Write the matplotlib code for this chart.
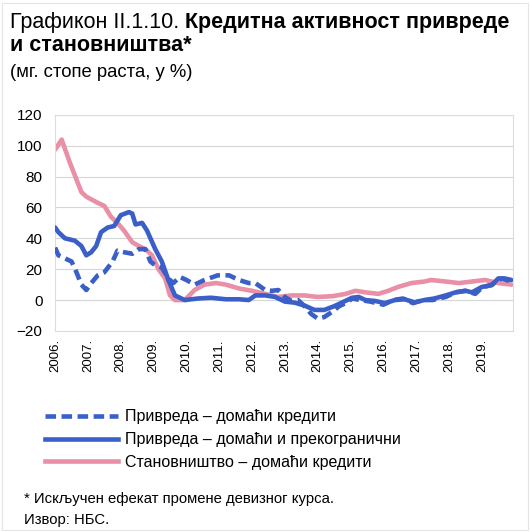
import matplotlib
matplotlib.use('Agg')
import matplotlib.pyplot as plt
from matplotlib.lines import Line2D
from matplotlib.patches import Rectangle

plt.rcParams['font.family'] = ['Liberation Sans', 'DejaVu Sans']

# Привреда - домаћи кредити (испрекидана)
x_dom = [2006.0, 2006.1, 2006.3, 2006.5, 2006.65, 2006.8, 2006.95, 2007.1, 2007.3, 2007.5,
         2007.75, 2007.9, 2008.1, 2008.35, 2008.55, 2008.75, 2008.9, 2009.05, 2009.25, 2009.45,
         2009.6, 2009.8, 2010.0, 2010.25, 2010.55, 2010.95, 2011.3, 2011.6, 2011.9, 2012.1,
         2012.4, 2012.6, 2012.8, 2013.0, 2013.2, 2013.4, 2013.6, 2013.8, 2014.0, 2014.2,
         2014.45, 2014.65, 2014.85, 2015.05, 2015.3, 2015.6, 2016.0, 2016.3, 2016.6, 2016.9,
         2017.2, 2017.5, 2017.9, 2018.2, 2018.5, 2018.8, 2019.0, 2019.3, 2019.6, 2019.9]
y_dom = [34, 29, 27, 25, 18, 10, 6.5, 11, 16, 18,
         25, 32, 31, 30, 33, 33, 25, 22.5, 21, 14,
         11, 15, 13, 10, 13, 16, 16, 13, 11, 11,
         6.5, 6, 6.5, 2, -0.6, 0, -4, -9, -12, -11,
         -7.5, -4, -2, 1, 0, -1, -3, 0, 1, -2,
         0, 0, 2, 5, 6, 4, 8, 10, 14, 12]

# Привреда - домаћи и прекогранични
x_tot = [2006.0, 2006.1, 2006.3, 2006.6, 2006.8, 2006.95, 2007.1, 2007.25, 2007.4, 2007.6,
         2007.8, 2008.0, 2008.25, 2008.35, 2008.45, 2008.65, 2008.8, 2009.05, 2009.25, 2009.45,
         2009.65, 2009.95, 2010.35, 2010.75, 2011.2, 2011.6, 2011.9, 2012.1, 2012.4, 2012.7,
         2013.0, 2013.3, 2013.6, 2013.9, 2014.2, 2014.5, 2014.8, 2015.05, 2015.25, 2015.45,
         2015.75, 2016.05, 2016.35, 2016.65, 2016.95, 2017.25, 2017.55, 2017.9, 2018.2, 2018.5,
         2018.7, 2019.0, 2019.3, 2019.5, 2019.7, 2019.9]
y_tot = [47, 44, 40, 38.5, 35, 29, 31, 35, 44, 47,
         48, 55, 57, 56, 49, 50, 45, 33, 25, 13,
         3, 0, 1, 1.5, 0.5, 0.5, 0, 3, 3, 2,
         -1, -1.7, -3.6, -6.4, -6.4, -4, -1, 1.5, 2, 0,
         -0.6, -2, 0, 0.5, -1.5, 0, 1, 3, 5, 6,
         5, 8.5, 9.6, 14, 14, 13]

# Становништво - домаћи кредити
x_hh = [2006.0, 2006.2, 2006.45, 2006.8, 2006.95, 2007.3, 2007.5, 2007.7, 2007.9, 2008.1,
        2008.35, 2008.55, 2008.75, 2008.95, 2009.15, 2009.35, 2009.5, 2009.65, 2009.95, 2010.25,
        2010.55, 2010.9, 2011.2, 2011.6, 2012.0, 2012.4, 2012.8, 2013.2, 2013.6, 2014.0,
        2014.45, 2014.85, 2015.15, 2015.45, 2015.85, 2016.15, 2016.45, 2016.85, 2017.25, 2017.45,
        2017.9, 2018.3, 2018.7, 2019.1, 2019.5, 2019.9]
y_hh = [97.5, 104, 89, 70, 67, 63, 61, 54, 50, 45,
        37.5, 35, 33, 29, 20, 14, 3, 0, 0, 6.5,
        10, 11, 10, 7.5, 6, 4, 2, 3, 3, 2,
        2.5, 4, 6, 5, 4, 6, 8.5, 11, 12, 13,
        12, 11, 12, 13, 11, 10]

years = list(range(2006, 2020))
year_labels = [f'{y}.' for y in years]
legend_labels = ['Привреда – домаћи кредити',
                 'Привреда – домаћи и прекогранични',
                 'Становништво – домаћи кредити']

blue = '#3b5fc8'
pink = '#e98fa6'
lw = 3.3

fig = plt.figure(figsize=(5.3, 5.32), dpi=100)
fig.patches.append(Rectangle((0.004, 0.004), 0.992, 0.99, transform=fig.transFigure,
                             fill=False, edgecolor='#e4e4e4', lw=0.8))

ax = fig.add_axes([0.104, 0.378, 0.864, 0.406])
ax.plot(x_hh, y_hh, color=pink, lw=lw, solid_capstyle='round', zorder=2)
ax.plot(x_tot, y_tot, color=blue, lw=lw, solid_capstyle='round', zorder=3)
ax.plot(x_dom, y_dom, color=blue, lw=lw, dashes=(2.3, 1.2), zorder=3)

ax.set_xlim(2006, 2019.95)
ax.set_ylim(-20, 120)
ax.set_yticks(range(-20, 121, 20))
ax.set_xticks(years)
ax.set_xticklabels(year_labels, rotation=90, fontsize=9.5)
ax.tick_params(axis='y', labelsize=11, length=0, pad=9)
ax.tick_params(axis='x', length=0, pad=6)
ax.grid(axis='y', color='#d6d6d6', lw=0.8)
for s in ax.spines.values():
    s.set_color('#dcdcdc')
    s.set_linewidth(0.8)

# наслов
t1 = fig.text(0.019, 0.947, 'Графикон II.1.10. ', fontsize=15.5, ha='left', va='baseline')
fig.canvas.draw()
bb = t1.get_window_extent(fig.canvas.get_renderer())
fig.text(bb.x1 / fig.bbox.width, 0.947, 'Кредитна активност привреде',
         fontsize=15.5, fontweight='bold', ha='left', va='baseline')
fig.text(0.019, 0.904, 'и становништва*', fontsize=15.5, fontweight='bold', ha='left', va='baseline')
fig.text(0.019, 0.855, '(мг. стопе раста, у %)', fontsize=13.3, ha='left', va='baseline')

# легенда
handles = [Line2D([], [], color=blue, lw=lw, dashes=(2.3, 1.2)),
           Line2D([], [], color=blue, lw=lw),
           Line2D([], [], color=pink, lw=lw)]
fig.legend(handles, legend_labels, loc='upper left', bbox_to_anchor=(0.073, 0.243),
           frameon=False, fontsize=11.5, handlelength=4.56, handletextpad=0.45,
           labelspacing=0.5, borderaxespad=0)

fig.text(0.045, 0.0545, '* Искључен ефекат промене девизног курса.', fontsize=10.7,
         ha='left', va='baseline')
fig.text(0.045, 0.015, 'Извор: НБС.', fontsize=10.7, ha='left', va='baseline')

fig.savefig('out.png', dpi=100)
